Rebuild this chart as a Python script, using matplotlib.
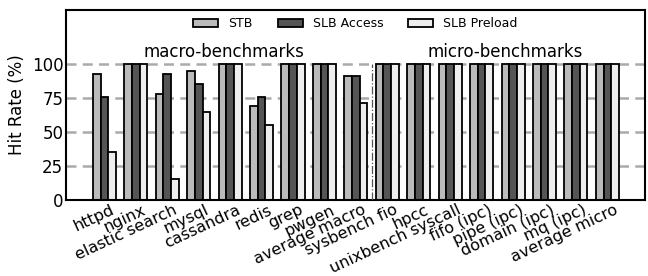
import numpy as np
import matplotlib
matplotlib.use('Agg')
import matplotlib.pyplot as plt

benchmarks = ['httpd', 'nginx', 'elastic search', 'mysql', 'cassandra', 'redis',
              'grep', 'pwgen', 'average macro', 'sysbench fio', 'hpcc',
              'unixbench syscall', 'fifo (ipc)', 'pipe (ipc)', 'domain (ipc)',
              'mq (ipc)', 'average micro']
stb = [93, 100, 78, 95, 100, 69, 100, 100, 91.5, 100, 100, 100, 100, 100, 100, 100, 100]
slb_access = [76, 100, 93, 85.5, 100, 75.5, 100, 100, 91, 100, 100, 100, 100, 100, 100, 100, 100]
slb_preload = [35, 100, 15, 65, 100, 55, 100, 100, 71, 100, 100, 100, 100, 100, 100, 100, 100]
yticks = [0, 25, 50, 75, 100]

x = np.arange(len(benchmarks))
w = 0.245

fig = plt.figure(figsize=(6.48, 2.76), dpi=100)
ax = fig.add_axes([0.102, 0.277, 0.893, 0.687])

# grid first so bars sit on top
for yv in yticks[1:]:
    ax.axhline(yv, color='#aaaaaa', ls=(0, (4, 2.5)), lw=1.8, zorder=0)

ax.bar(x - w, stb, w, color='#bbbbbb', edgecolor='black', lw=1.3, label='STB', zorder=2)
ax.bar(x, slb_access, w, color='#555555', edgecolor='black', lw=1.3, label='SLB Access', zorder=2)
ax.bar(x + w, slb_preload, w, color='#eeeeee', edgecolor='black', lw=1.3, label='SLB Preload', zorder=2)

# macro / micro separator
ax.plot([8.5, 8.5], [0, 100], color='#555555', ls='-.', lw=0.9, zorder=3)
ax.text(3.8, 102, 'macro-benchmarks', ha='center', va='bottom', fontsize=12)
ax.text(12.75, 102, 'micro-benchmarks', ha='center', va='bottom', fontsize=12)

ax.set_xlim(-1.22, 17.19)
ax.set_ylim(0, 140)
ax.set_yticks(yticks)
ax.set_yticklabels([str(v) for v in yticks], fontsize=12)
ax.set_xticks(x + 0.4)
ax.set_xticklabels(benchmarks, rotation=25, ha='right', fontsize=11.5)
ax.tick_params(axis='both', length=0, pad=2)
ax.set_ylabel('Hit Rate (%)', fontsize=12)
for s in ax.spines.values():
    s.set_linewidth(1.5)

ax.legend(loc='upper center', ncol=3, frameon=False, fontsize=9,
          bbox_to_anchor=(0.5, 1.02), handlelength=2.0, columnspacing=2.0)

fig.savefig('out.png', dpi=100)
